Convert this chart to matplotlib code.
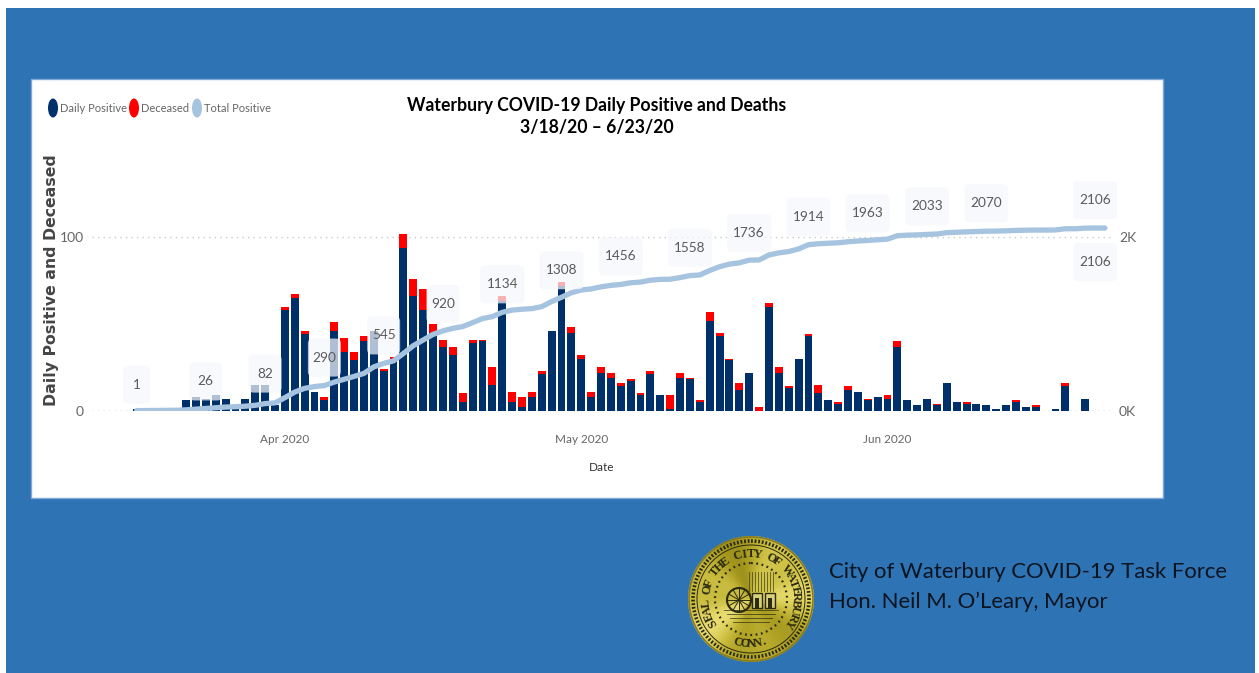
import matplotlib
matplotlib.use("Agg")
import matplotlib.pyplot as plt
import numpy as np
from matplotlib.patches import Circle, Ellipse, FancyBboxPatch, Rectangle
from matplotlib.transforms import Affine2D

# daily counts (3/18 onwards)
daily_positive = [1, 0, 0, 0, 0, 6, 8, 7, 9, 7, 2, 7, 15, 15, 3, 58, 65, 44, 11, 6,
                  46, 34, 29, 40, 46, 23, 29, 94, 66, 58, 45, 37, 32, 5, 39, 40, 15, 63, 5, 2,
                  8, 21, 46, 72, 45, 30, 8, 22, 19, 14, 17, 9, 21, 9, 1, 19, 18, 5, 52, 43,
                  29, 12, 22, 0, 60, 22, 13, 30, 43, 10, 6, 4, 12, 11, 6, 8, 7, 37, 6, 3,
                  7, 3, 16, 5, 4, 4, 3, 1, 3, 5, 2, 2, 0, 1, 14, 0, 7]
deceased = [0, 0, 0, 0, 0, 0, 0, 0, 0, 0, 0, 0, 0, 0, 0, 2, 2, 2, 0, 2,
            5, 8, 5, 3, 0, 1, 2, 8, 10, 12, 5, 4, 5, 5, 2, 1, 10, 3, 6, 6,
            3, 2, 0, 2, 3, 2, 3, 3, 3, 2, 1, 1, 2, 0, 8, 3, 1, 1, 5, 2,
            1, 4, 0, 2, 2, 3, 1, 0, 1, 5, 0, 1, 2, 0, 1, 0, 2, 3, 0, 0,
            0, 1, 0, 0, 1, 0, 0, 0, 0, 1, 0, 1, 0, 0, 2, 0, 0]
total_positive = [1, 2, 3, 4, 5, 10, 18, 26, 34, 42, 46, 52, 62, 82, 90, 150, 215, 258, 278, 290,
                  330, 362, 395, 430, 505, 545, 575, 660, 750, 815, 880, 920, 950, 970, 1015, 1062, 1085, 1134, 1160, 1170,
                  1177, 1200, 1258, 1308, 1360, 1392, 1404, 1428, 1445, 1456, 1475, 1483, 1505, 1514, 1516, 1535, 1558, 1565, 1617, 1660,
                  1690, 1705, 1736, 1738, 1796, 1820, 1835, 1865, 1914, 1925, 1931, 1936, 1948, 1957, 1963, 1971, 1978, 2018, 2024, 2027,
                  2033, 2037, 2053, 2058, 2062, 2066, 2070, 2071, 2074, 2079, 2081, 2083, 2083, 2084, 2098, 2098, 2105, 2106, 2106]

label_days = [0, 7, 13, 19, 25, 31, 37, 43, 49, 56, 62, 68, 74, 80, 86, 97, 97]
label_offsets = [26, 27, 30, 28, 28, 27, 28, 27, 28, 28, 27, 28, 27, 28, 28, 28, -34]

month_days = [15, 45, 76]
month_labels = ["Apr 2020", "May 2020", "Jun 2020"]
series_names = ["Daily Positive", "Deceased", "Total Positive"]

NAVY = "#00306a"
RED = "#ff0000"
PALE = "#a6c3e0"
BLUE = "#2e74b5"
FONT = "Lato"

W, H = 1259, 673
fig = plt.figure(figsize=(W / 100, H / 100), dpi=100, facecolor="white")

# whole figure in pixels, for the slide behind the chart
bg = fig.add_axes([0, 0, 1, 1], zorder=0)
bg.axis("off")
bg.add_patch(Rectangle((6, 8), 1249, 665, fc=BLUE, ec="none"))
bg.add_patch(Rectangle((31.5, 79), 1132, 419, fc="white", ec="#7fa8d6", lw=1))

# seal
cx, cy, r = 751, 599, 63
yy, xx = np.mgrid[-1:1:260j, -1:1:260j]
ang = np.arctan2(yy, xx)
shade = 0.55 + 0.25 * np.cos(2 * ang + 0.8) + 0.12 * np.cos(5 * ang)
gold = np.dstack([0.55 + 0.40 * shade, 0.50 + 0.40 * shade, 0.10 + 0.42 * shade**2]).clip(0, 1)
img = bg.imshow(gold, extent=(cx - r, cx + r, cy + r, cy - r), aspect="auto", zorder=2)
img.set_clip_path(Circle((cx, cy), r, transform=bg.transData))
INK = "#2b2a12"
bg.add_patch(Circle((cx, cy), r - 1, fc="none", ec="#8a7a20", lw=1.2, zorder=3))
bg.add_patch(Circle((cx, cy), r - 5, fc="none", ec=INK, lw=2.6, ls=(0, (0.5, 0.5)), zorder=3))
bg.add_patch(Circle((cx, cy), r - 9, fc="none", ec=INK, lw=0.7, zorder=3))
bg.add_patch(Circle((cx, cy), r - 27, fc="none", ec=INK, lw=1.6, ls=(0, (0.8, 1.6)), zorder=3))

seal_text = "SEAL OF THE CITY OF WATERBURY"
for a, ch in zip(np.linspace(-122, 122, len(seal_text)), seal_text):
    t = np.radians(a)
    bg.text(cx + (r - 18) * np.sin(t), cy - (r - 18) * np.cos(t), ch, rotation=-a,
            ha="center", va="center", family="Liberation Serif", weight="bold",
            fontsize=8.8, color=INK, zorder=4)
for a, ch in zip(np.linspace(-17, 17, 5), "CONN."):
    t = np.radians(a)
    bg.text(cx + (r - 18) * np.sin(t), cy + (r - 18) * np.cos(t), ch, rotation=a,
            ha="center", va="center", family="Liberation Serif", weight="bold",
            fontsize=8.8, color=INK, zorder=4)

# middle of the seal: wheel, sheds, ground
wx, wy = cx - 12, cy + 1
bg.add_patch(Circle((wx, wy), 12, fc="none", ec=INK, lw=1.5, zorder=4))
for a in np.radians(np.arange(0, 180, 30)):
    bg.plot([wx - 12 * np.cos(a), wx + 12 * np.cos(a)], [wy - 12 * np.sin(a), wy + 12 * np.sin(a)],
            color=INK, lw=0.7, zorder=4)
for bx in (cx + 6, cx + 19):
    bg.add_patch(Rectangle((bx - 5, cy - 6), 10, 15, fc="#d8cf7a", ec=INK, lw=1.0, zorder=4))
    bg.add_patch(Rectangle((bx - 2, cy - 1), 4, 10, fc=INK, ec="none", zorder=4))
for vx in range(cx - 2, cx + 24, 3):
    bg.plot([vx, vx], [cy - 27, cy - 8], color=INK, lw=0.6, alpha=0.7, zorder=3)
for i, gy in enumerate(range(cy + 11, cy + 27, 4)):
    bg.plot([cx - 27 + 3 * i, cx + 27 - 3 * i], [gy, gy], color=INK, lw=0.6, alpha=0.8, zorder=3)

bg.text(829, 572, "City of Waterbury COVID-19 Task Force", family=FONT, fontsize=15.9,
        color="#0c1420", va="center", zorder=4)
bg.text(829, 602, "Hon. Neil M. O\u2019Leary, Mayor", family=FONT, fontsize=15.9,
        color="#0c1420", va="center", zorder=4)

bg.text(597, 105, "Waterbury COVID-19 Daily Positive and Deaths", family=FONT, weight="bold",
        fontsize=12.7, color="black", ha="center", va="center", zorder=4)
bg.text(597, 128, "3/18/20 \u2013 6/23/20", family=FONT, weight="bold",
        fontsize=12.7, color="black", ha="center", va="center", zorder=4)

# legend
for name, col, ex, tx in zip(series_names, [NAVY, RED, PALE], [53, 134, 197], [60, 141, 204]):
    bg.add_patch(Ellipse((ex, 108), 10, 19, fc=col, ec="none", zorder=4))
    bg.text(tx, 108, name, family=FONT, fontsize=8, color="#666666", va="center", zorder=4)

bg.text(52, 280, "Daily Positive and Deceased", family="DejaVu Sans", weight="bold", fontsize=11.3,
        color="#454545", rotation=90, ha="center", va="center", zorder=4)
bg.set_xlim(0, W)
bg.set_ylim(H, 0)

# chart, placed so that the day spacing and the y scale match the picture
left, right, top, bottom = 92, 1112, 150, 410.7
ax = fig.add_axes([left / W, 1 - bottom / H, (right - left) / W, (bottom - top) / H], zorder=2)
ax.patch.set_alpha(0)
for s in ax.spines.values():
    s.set_visible(False)

days = np.arange(len(daily_positive))
pos = np.array(daily_positive)
dead = np.array(deceased)
ax.bar(days, pos, width=0.8, color=NAVY, zorder=2)
ax.bar(days, dead, width=0.8, bottom=pos, color=RED, zorder=2)

ax.set_xlim(-4.52, 98.72)
ax.set_ylim(0, 150.3)
ax.set_yticks([0, 100])
ax.grid(axis="y", color="#c9c9c9", lw=1, ls=(0, (1, 3)), zorder=1)
ax.set_axisbelow(True)
ax.set_xticks(month_days)
ax.set_xticklabels(month_labels, family=FONT, fontsize=8.5, color="#666666")
ax.tick_params(axis="x", length=0, pad=17)
ax.tick_params(axis="y", length=0, pad=6, labelsize=10, labelcolor="#666666")
for lb in ax.get_yticklabels():
    lb.set_family(FONT)
ax.set_xlabel("Date", family=FONT, fontsize=8.5, color="#333333", labelpad=12)
ax.axhline(0, color="#c9c9c9", lw=1, ls=(0, (1, 3)), zorder=1)

ax2 = ax.twinx()
ax2.patch.set_alpha(0)
for s in ax2.spines.values():
    s.set_visible(False)
ax2.set_ylim(0, 3006)
ax2.set_yticks([0, 2000])
ax2.set_yticklabels(["0K", "2K"], family=FONT, fontsize=10, color="#666666")
ax2.tick_params(axis="y", length=0, pad=5)
ax2.plot(np.arange(len(total_positive)), total_positive, color=PALE, lw=3.8,
         solid_capstyle="round", solid_joinstyle="round", zorder=3)

# value labels sit in pale translucent boxes, over the bars
for d, off in zip(label_days, label_offsets):
    v = total_positive[d]
    px, py = ax2.transData.transform((d, v))
    tr = Affine2D().translate(px, py)
    text = str(v)
    w = 27 if len(text) == 1 else 44 if len(text) == 4 else 33
    ax2.add_patch(FancyBboxPatch((-w / 2, off - 19), w, 38, boxstyle="round,pad=0,rounding_size=5",
                                 fc="#f5f7fc", ec="none", alpha=0.72, transform=tr, zorder=4,
                                 clip_on=False))
    ax2.text(px, py + off, text, transform=None, family=FONT, fontsize=9.8, color="#5a5a5a",
             ha="center", va="center", zorder=5)

fig.savefig("out.png", dpi=100)
